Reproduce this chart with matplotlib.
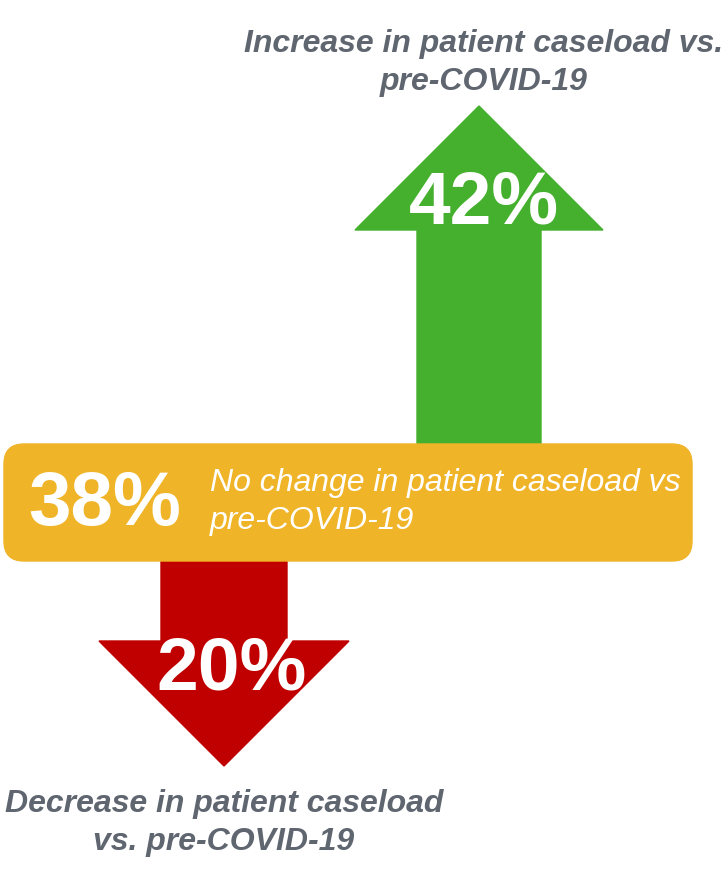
import matplotlib
matplotlib.use('Agg')
import matplotlib.pyplot as plt
from matplotlib.patches import Polygon, FancyBboxPatch

# valores do gráfico
categorias = ['Increase', 'No change', 'Decrease']
percentuais = [42, 38, 20]
rotulos = [
    'Increase in patient caseload vs.\npre-COVID-19',
    'No change in patient caseload vs\npre-COVID-19',
    'Decrease in patient caseload\nvs. pre-COVID-19',
]
cores = ['#45B02E', '#F0B428', '#C00000']
cor_texto = '#5F6670'

plt.rcParams['font.family'] = ['Liberation Sans', 'DejaVu Sans']

fig = plt.figure(figsize=(7.27, 8.79), dpi=100)
ax = fig.add_axes([0, 0, 1, 1])
ax.set_xlim(0, 727)
ax.set_ylim(879, 0)
ax.axis('off')

# seta verde (aumento)
seta_cima = [(417, 450), (417, 231), (355, 231), (479, 107),
             (603, 231), (541, 231), (541, 450)]
ax.add_patch(Polygon(seta_cima, closed=True, color=cores[0], zorder=1))

# seta vermelha (queda)
seta_baixo = [(161, 555), (161, 642), (99, 642), (224, 767),
              (349, 642), (287, 642), (287, 555)]
ax.add_patch(Polygon(seta_baixo, closed=True, color=cores[2], zorder=1))

# caixa amarela (sem mudança)
caixa = FancyBboxPatch((4, 445), 688, 117, boxstyle='round,pad=0,rounding_size=20',
                       color=cores[1], zorder=2)
ax.add_patch(caixa)

# percentuais
ax.text(484, 204, f'{percentuais[0]}%', color='white', fontsize=54, fontweight='bold',
        ha='center', va='center', zorder=3)
ax.text(28, 506, f'{percentuais[1]}%', color='white', fontsize=55, fontweight='bold',
        ha='left', va='center', zorder=3)
ax.text(232, 670, f'{percentuais[2]}%', color='white', fontsize=54, fontweight='bold',
        ha='center', va='center', zorder=3)

# rótulos
ax.text(484, 63, rotulos[0], color=cor_texto, fontsize=23, fontweight='bold',
        fontstyle='italic', ha='center', va='center', linespacing=1.38)
ax.text(210, 502, rotulos[1], color='white', fontsize=23,
        fontstyle='italic', ha='left', va='center', linespacing=1.38, zorder=3)
ax.text(224, 823, rotulos[2], color=cor_texto, fontsize=23, fontweight='bold',
        fontstyle='italic', ha='center', va='center', linespacing=1.38)

fig.savefig('out.png', dpi=100)
